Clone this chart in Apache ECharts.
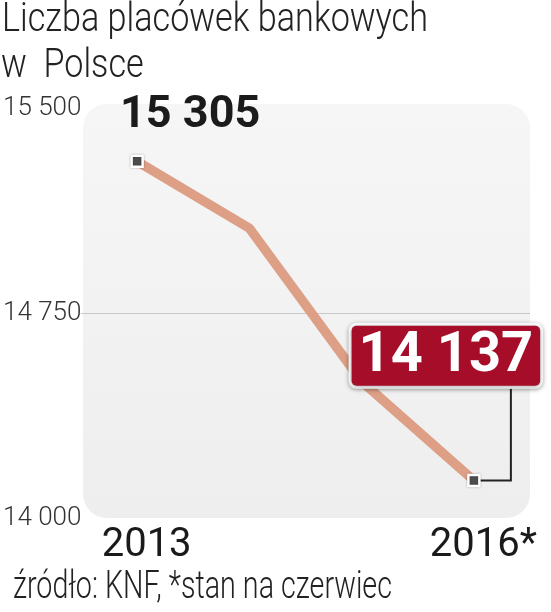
<!DOCTYPE html>
<html><head><meta charset="utf-8">
<style>html,body{margin:0;padding:0;background:#fff}#c{width:551px;height:612px}</style>
<script src="https://cdn.jsdelivr.net/npm/echarts@6/dist/echarts.min.js"></script>
</head><body><div id="c"></div>
<script>
const titleLines = ['Liczba placówek bankowych', 'w  Polsce'];
const sourceNote = 'źródło: KNF, *stan na czerwiec';
const years = ['2013', '2014', '2015', '2016*'];
const branches = [15305, 15060, 14500, 14137];
const yTicks = [14000, 14750, 15500];
const shownYears = ['2013', '2016*'];

function fmt(v){ return String(v).replace(/\B(?=(\d{3})+(?!\d))/g, ' '); }
function fitScale(text, font, target){
  const ctx = document.createElement('canvas').getContext('2d');
  ctx.font = font;
  return target / ctx.measureText(text).width;
}

const chart = echarts.init(document.getElementById('c'));
const titleFont = '300 40px Roboto';
const noteFont = '300 39px Roboto';

const lastIdx = branches.length - 1;
const seriesData = branches.map((v, i) => {
  const item = { value: v, symbol: (i === 0 || i === lastIdx) ? 'rect' : 'none' };
  if (i === 0) {
    item.label = { show: true, position: 'top', distance: 0, offset: [53, -16],
      fontFamily: 'Roboto', fontWeight: 'bold', fontSize: 45, color: '#1b1b1b' };
  } else if (i === lastIdx) {
    item.label = { show: true, position: 'top', distance: 0, offset: [-28, -88],
      fontFamily: 'Roboto', fontWeight: 'bold', fontSize: 56, lineHeight: 56, color: '#fff',
      backgroundColor: '#a50d29', borderColor: '#fff', borderWidth: 3, borderRadius: 5,
      padding: [3, 7, 1, 7], shadowColor: 'rgba(0,0,0,0.35)', shadowBlur: 4, shadowOffsetY: 1 };
  }
  return item;
});

chart.setOption({
  animation: false,
  grid: { left: 81, right: 21, top: 108, bottom: 94, outerBoundsMode: 'none' },
  xAxis: {
    type: 'category', data: years, boundaryGap: true,
    axisLine: { show: false }, axisTick: { show: false },
    axisLabel: {
      interval: (i, v) => shownYears.includes(v),
      fontFamily: 'Roboto', fontSize: 40, fontWeight: 'normal', color: '#1a1a1a',
      margin: 8, padding: [0, 0, 0, 19]
    },
    splitLine: { show: false }
  },
  yAxis: {
    type: 'value', min: yTicks[0], max: yTicks[yTicks.length - 1], interval: yTicks[1] - yTicks[0],
    axisLine: { show: false }, axisTick: { show: false },
    axisLabel: { align: 'left', margin: 78, formatter: fmt,
      fontFamily: 'Roboto', fontWeight: 300, fontSize: 26, color: '#333' },
    splitLine: { show: true, lineStyle: { color: ['rgba(0,0,0,0)', '#c9c9c9', 'rgba(0,0,0,0)'], width: 1 } }
  },
  series: [{
    type: 'line', data: seriesData,
    lineStyle: { color: '#dd9f86', width: 9.5 }, itemStyle: { color: '#4d4d4d', borderColor: '#fff', borderWidth: 2.5,
      shadowColor: 'rgba(0,0,0,0.3)', shadowBlur: 2 },
    symbolSize: 11, showSymbol: true, z: 3,
    label: { formatter: p => fmt(p.value) },
    emphasis: { disabled: true }
  }],
  graphic: [
    { id: 'bg', type: 'rect', z: -10, silent: true,
      shape: { x: 83, y: 104, width: 447, height: 414, r: 24 },
      style: { fill: new echarts.graphic.LinearGradient(0, 0, 0, 1, [
        { offset: 0, color: '#f6f6f6' }, { offset: 1, color: '#eeeeee' }]) } },
    { id: 't1', type: 'text', x: 2, y: 21, scaleX: fitScale(titleLines[0], titleFont, 426),
      style: { text: titleLines[0], font: titleFont, fill: '#222', textVerticalAlign: 'middle' } },
    { id: 't2', type: 'text', x: 1, y: 67, scaleX: fitScale(titleLines[0], titleFont, 426),
      style: { text: titleLines[1], font: titleFont, fill: '#222', textVerticalAlign: 'middle' } },
    { id: 'note', type: 'text', x: 13, y: 588, scaleX: fitScale(sourceNote, noteFont, 379),
      style: { text: sourceNote, font: noteFont, fill: '#222', textVerticalAlign: 'middle' } }
  ]
});

const p = chart.convertToPixel({ seriesIndex: 0 }, [lastIdx, branches[lastIdx]]);
chart.setOption({ graphic: [{ id: 'conn', type: 'polyline', z: 1, silent: true,
  shape: { points: [[p[0] + 6, p[1]], [p[0] + 37, p[1]], [p[0] + 37, p[1] - 92]] },
  style: { stroke: '#222', lineWidth: 2, fill: null } }] });
</script></body></html>
